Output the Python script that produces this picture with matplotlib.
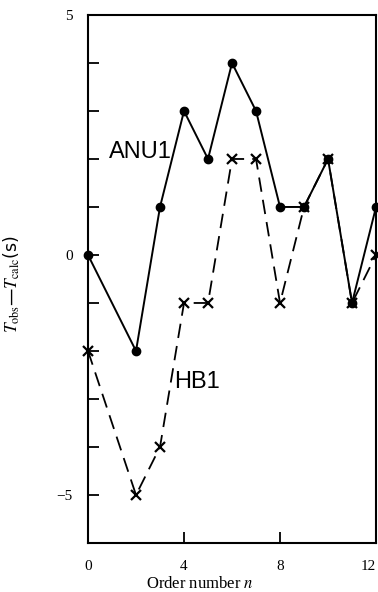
#!/usr/bin/env python3
"""Residuals of observed minus calculated travel times by order number."""

import matplotlib

matplotlib.use("Agg")

import matplotlib.pyplot as plt

ORDER_N = [0, 2, 3, 4, 5, 6, 7, 8, 9, 10, 11, 12]
ANU1 = [0, -2, 1, 3, 2, 4, 3, 1, 1, 2, -1, 1]
HB1 = [-2, -5, -4, -1, -1, 2, 2, -1, 1, 2, -1, 0]

X_TICKS = [0, 4, 8, 12]
Y_TICKS = [-5, 0, 5]

SERIF = ["Liberation Serif", "DejaVu Serif"]
SANS = ["Liberation Sans", "DejaVu Sans"]


def main() -> None:
    plt.rcParams["mathtext.fontset"] = "stix"
    fig = plt.figure(figsize=(3.78, 5.92), dpi=100)
    ax = fig.add_axes([0.2328, 0.0828, 0.762, 0.8919])

    ax.plot(ORDER_N, ANU1, color="black", linewidth=1.4, marker="o",
            markersize=6, clip_on=False, zorder=3)
    ax.plot(ORDER_N, HB1, color="black", linewidth=1.3, linestyle=(0, (8, 4.5)),
            marker="x", markersize=7, markeredgewidth=1.6, clip_on=False, zorder=2)

    ax.text(2.17, 2.15, "ANU1", family=SANS, fontsize=17, ha="center", va="center")
    ax.text(4.55, -2.65, "HB1", family=SANS, fontsize=17, ha="center", va="center")

    ax.set_xlim(0, 12)
    ax.set_ylim(-6, 5)
    ax.set_xticks(X_TICKS)
    ax.set_yticks(range(-6, 6))
    ax.set_yticklabels(["" if v not in Y_TICKS else ("\u2212" + str(-v) if v < 0 else str(v))
                        for v in range(-6, 6)])
    for lab in ax.get_xticklabels() + ax.get_yticklabels():
        lab.set_family(SERIF)
        lab.set_fontsize(11)
    # last x label sits on the figure edge; keep it inside
    ax.get_xticklabels()[-1].set_horizontalalignment("right")
    ax.tick_params(axis="both", direction="in", length=8, width=1.3, pad=12)
    ax.tick_params(axis="y", pad=11)
    for side in ax.spines.values():
        side.set_linewidth(1.5)

    ax.set_ylabel(r"$T_{\rm obs}$—$T_{\rm calc}$(s)", fontsize=12.5)
    ax.yaxis.set_label_coords(-0.228, 0.49)
    ax.set_xlabel(r"Order number $n$", family=SERIF, fontsize=12)
    ax.xaxis.set_label_coords(0.39, -0.062)

    fig.savefig("out.png", dpi=100)
    plt.close(fig)


if __name__ == "__main__":
    main()
